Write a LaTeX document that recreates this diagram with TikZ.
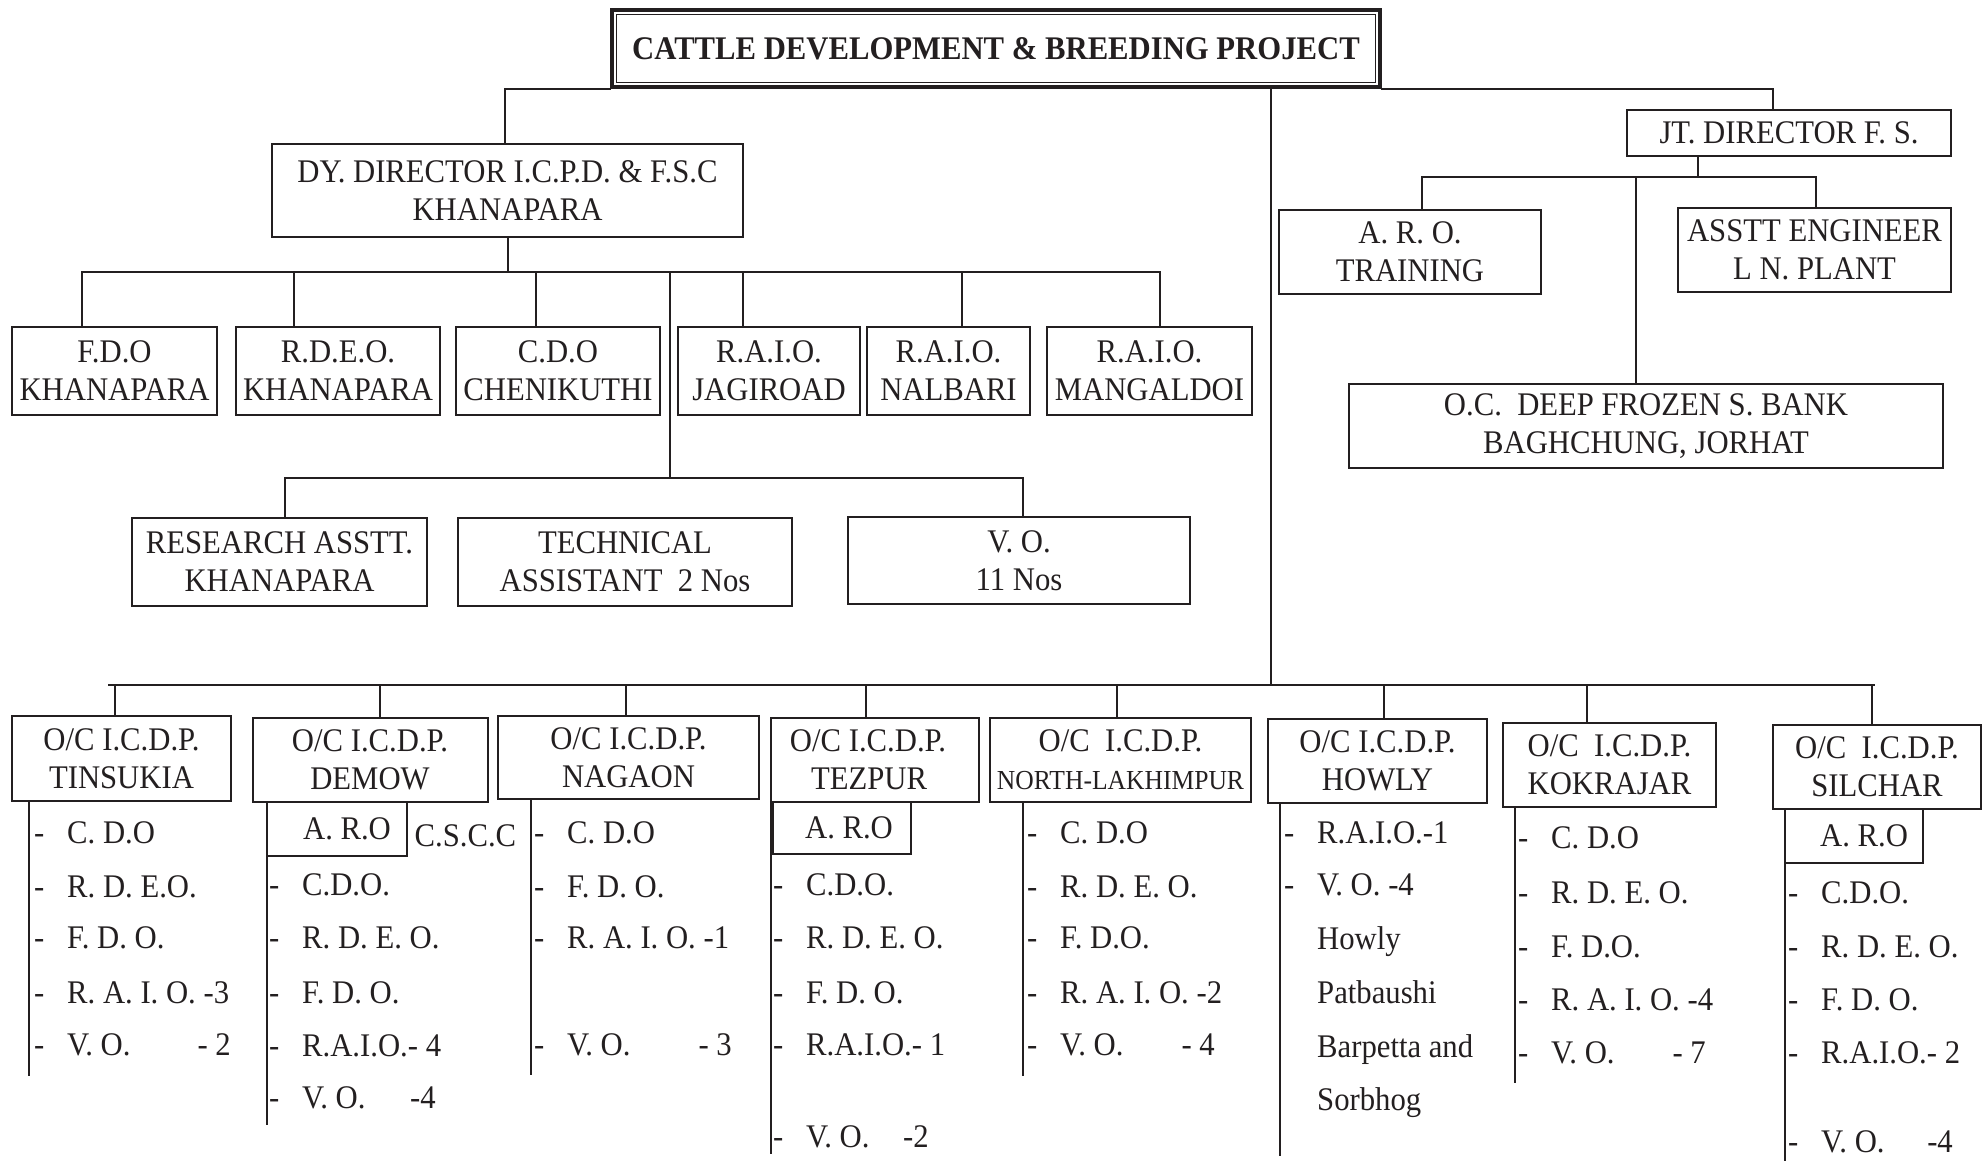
\documentclass[tikz,border=0pt]{standalone}
\usepackage{fontspec}
\setmainfont{Liberation Serif}[FakeStretch=0.93]
\definecolor{ink}{RGB}{35,31,32}
\newcommand{\lidash}{\makebox[33pt][l]{-}}

\begin{document}
\begin{tikzpicture}[x=1pt, y=-1pt,
  box/.style={shape=rectangle, draw=ink, line width=2pt, inner sep=0pt, align=center, text=ink, font=\fontsize{33}{38}\selectfont},
  entry/.style={anchor=base west, inner sep=0pt, text=ink, font=\fontsize{33}{38}\selectfont},
  link/.style={draw=ink, line width=2pt, line cap=rect}]
\useasboundingbox (0,0) rectangle (1982,1160);
\node[box, line width=3.5pt, minimum width=768pt, minimum height=77pt, font=\fontsize{33}{38}\selectfont\bfseries] (title) at (996,48.5) {CATTLE DEVELOPMENT \& BREEDING PROJECT};
\draw[ink, line width=1pt] ([shift={(6,6)}]title.north west) rectangle ([shift={(-6,-6)}]title.south east);
\node[box, minimum width=471pt, minimum height=93pt] (dy) at (507.5,190.5) {DY. DIRECTOR I.C.P.D. \& F.S.C\\KHANAPARA};
\node[box, minimum width=205pt, minimum height=88pt] (fdo) at (114.5,371) {F.D.O\\KHANAPARA};
\node[box, minimum width=204pt, minimum height=88pt] (rdeo) at (338,371) {R.D.E.O.\\KHANAPARA};
\node[box, minimum width=204pt, minimum height=88pt] (cdo) at (558,371) {C.D.O\\CHENIKUTHI};
\node[box, minimum width=182pt, minimum height=88pt] (jagi) at (769,371) {R.A.I.O.\\JAGIROAD};
\node[box, minimum width=163pt, minimum height=88pt] (nalb) at (948.5,371) {R.A.I.O.\\NALBARI};
\node[box, minimum width=205pt, minimum height=88pt] (mang) at (1149.5,371) {R.A.I.O.\\MANGALDOI};
\node[box, minimum width=295pt, minimum height=88pt] (res) at (279.5,562) {RESEARCH ASSTT.\\KHANAPARA};
\node[box, minimum width=334pt, minimum height=88pt] (tech) at (625,562) {TECHNICAL\\ASSISTANT~~2 Nos};
\node[box, minimum width=342pt, minimum height=87pt] (vo) at (1019,560.5) {V. O.\\11 Nos};
\node[box, minimum width=324pt, minimum height=46pt] (jt) at (1789,133) {JT. DIRECTOR F. S.};
\node[box, minimum width=262pt, minimum height=84pt] (aro) at (1410,252) {A. R. O.\\TRAINING};
\node[box, minimum width=273pt, minimum height=84pt] (ae) at (1814.5,250) {ASSTT ENGINEER\\L N. PLANT};
\node[box, minimum width=594pt, minimum height=84pt] (ocd) at (1646,426) {O.C.~~DEEP FROZEN S. BANK\\BAGHCHUNG, JORHAT};
\node[box, minimum width=219pt, minimum height=85pt] (tin) at (121.5,758.5) {O/C I.C.D.P.\\TINSUKIA};
\node[box, minimum width=235pt, minimum height=84pt] (dem) at (370,760) {O/C I.C.D.P.\\DEMOW};
\node[box, minimum width=261pt, minimum height=83pt] (nag) at (628.5,757.5) {O/C I.C.D.P.\\NAGAON};
\node[box, minimum width=208pt, minimum height=84pt] (tez) at (875,760) {O/C I.C.D.P.\hspace*{14pt}\\TEZPUR\hspace*{12pt}};
\node[box, minimum width=261pt, minimum height=84pt] (nl) at (1120.5,760) {O/C~~I.C.D.P.\\{\fontsize{27.5}{31}\selectfont NORTH-LAKHIMPUR}};
\node[box, minimum width=219pt, minimum height=84pt] (how) at (1377.5,761) {O/C I.C.D.P.\\HOWLY};
\node[box, minimum width=213pt, minimum height=84pt] (kok) at (1609.5,765) {O/C~~I.C.D.P.\\KOKRAJAR};
\node[box, minimum width=208pt, minimum height=84pt] (sil) at (1877,767) {O/C~~I.C.D.P.\\SILCHAR};
\node[box, minimum width=140pt, minimum height=54pt] (demaro) at (337,829) {\hspace*{20pt}A. R.O};
\node[box, minimum width=138pt, minimum height=52pt] (tezaro) at (842,828) {\hspace*{14pt}A. R.O};
\node[box, minimum width=138pt, minimum height=54pt] (silaro) at (1854,836) {\hspace*{20pt}A. R.O};
\node[entry] (cscc) at (414.5,846) {C.S.C.C};
\node[entry] (tin1) at (34,843) {\lidash C. D.O};
\node[entry] (tin2) at (34,897) {\lidash R. D. E.O.};
\node[entry] (tin3) at (34,948) {\lidash F. D. O.};
\node[entry] (tin4) at (34,1003) {\lidash R. A. I. O. -3};
\node[entry] (tin5) at (34,1055) {\lidash V. O.};
\node[entry, anchor=base east] (tin5n) at (231,1055) {- 2};
\node[entry] (dem1) at (269,895) {\lidash C.D.O.};
\node[entry] (dem2) at (269,948) {\lidash R. D. E. O.};
\node[entry] (dem3) at (269,1003) {\lidash F. D. O.};
\node[entry] (dem4) at (269,1056) {\lidash R.A.I.O.- 4};
\node[entry] (dem5) at (269,1108) {\lidash V. O.};
\node[entry, anchor=base east] (dem5n) at (436,1108) {-4};
\node[entry] (nag1) at (534,843) {\lidash C. D.O};
\node[entry] (nag2) at (534,897) {\lidash F. D. O.};
\node[entry] (nag3) at (534,948) {\lidash R. A. I. O. -1};
\node[entry] (nag4) at (534,1055) {\lidash V. O.};
\node[entry, anchor=base east] (nag4n) at (732,1055) {- 3};
\node[entry] (tez1) at (773,895) {\lidash C.D.O.};
\node[entry] (tez2) at (773,948) {\lidash R. D. E. O.};
\node[entry] (tez3) at (773,1003) {\lidash F. D. O.};
\node[entry] (tez4) at (773,1055) {\lidash R.A.I.O.- 1};
\node[entry] (tez5) at (773,1147) {\lidash V. O.};
\node[entry, anchor=base east] (tez5n) at (929,1147) {-2};
\node[entry] (nl1) at (1027,843) {\lidash C. D.O};
\node[entry] (nl2) at (1027,897) {\lidash R. D. E. O.};
\node[entry] (nl3) at (1027,948) {\lidash F. D.O.};
\node[entry] (nl4) at (1027,1003) {\lidash R. A. I. O. -2};
\node[entry] (nl5) at (1027,1055) {\lidash V. O.};
\node[entry, anchor=base east] (nl5n) at (1215,1055) {- 4};
\node[entry] (how1) at (1284,843) {\lidash R.A.I.O.-1};
\node[entry] (how2) at (1284,895) {\lidash V. O. -4};
\node[entry] (how3) at (1317,949) {Howly};
\node[entry] (how4) at (1317,1003) {Patbaushi};
\node[entry] (how5) at (1317,1057) {Barpetta and};
\node[entry] (how6) at (1317,1110) {Sorbhog};
\node[entry] (kok1) at (1518,848) {\lidash C. D.O};
\node[entry] (kok2) at (1518,903) {\lidash R. D. E. O.};
\node[entry] (kok3) at (1518,957) {\lidash F. D.O.};
\node[entry] (kok4) at (1518,1010) {\lidash R. A. I. O. -4};
\node[entry] (kok5) at (1518,1063) {\lidash V. O.};
\node[entry, anchor=base east] (kok5n) at (1706,1063) {- 7};
\node[entry] (sil1) at (1788,903) {\lidash C.D.O.};
\node[entry] (sil2) at (1788,957) {\lidash R. D. E. O.};
\node[entry] (sil3) at (1788,1010) {\lidash F. D. O.};
\node[entry] (sil4) at (1788,1063) {\lidash R.A.I.O.- 2};
\node[entry] (sil5) at (1788,1152) {\lidash V. O.};
\node[entry, anchor=base east] (sil5n) at (1953,1152) {-4};
\coordinate (tlft) at (505,0);
\coordinate (trgt) at (1773,0);
\coordinate (trunk) at (1271,685);
\coordinate (busl) at (109,685);
\coordinate (busr) at (1874,685);
\coordinate (b1) at (114.5,685);
\coordinate (b2) at (380,685);
\coordinate (b3) at (626,685);
\coordinate (b4) at (866,685);
\coordinate (b5) at (1117,685);
\coordinate (b6) at (1384,685);
\coordinate (b7) at (1587,685);
\coordinate (b8) at (1872,685);
\coordinate (ra) at (82,272);
\coordinate (rb) at (294,272);
\coordinate (rc) at (536,272);
\coordinate (rd) at (670,272);
\coordinate (re) at (743,272);
\coordinate (rf) at (962,272);
\coordinate (rg) at (1160,272);
\coordinate (sm) at (670,478);
\coordinate (sa) at (285,478);
\coordinate (sb) at (1023,478);
\coordinate (ja) at (1422,177);
\coordinate (jb) at (1636,177);
\coordinate (jm) at (1698,177);
\coordinate (jc) at (1816,177);
\coordinate (tinv) at (29,1075);
\coordinate (demv) at (267,1124);
\coordinate (nagv) at (531,1074);
\coordinate (tezv) at (771,1153);
\coordinate (nlv) at (1023,1075);
\coordinate (howv) at (1280,1155);
\coordinate (kokv) at (1515,1082);
\coordinate (silv) at (1785,1160);
\draw[link] (title.south west) -| (tlft |- dy.north);
\draw[link] (title.south east) -| (trgt |- jt.north);
\path[link] (trunk |- title.south) edge (trunk);
\path[link] (busl) edge (busr);
\path[link] (b1) edge (b1 |- tin.north);
\path[link] (b2) edge (b2 |- dem.north);
\path[link] (b3) edge (b3 |- nag.north);
\path[link] (b4) edge (b4 |- tez.north);
\path[link] (b5) edge (b5 |- nl.north);
\path[link] (b6) edge (b6 |- how.north);
\path[link] (b7) edge (b7 |- kok.north);
\path[link] (b8) edge (b8 |- sil.north);
\path[link] (dy.south) edge (dy.south |- ra);
\path[link] (ra) edge (rg);
\path[link] (ra) edge (ra |- fdo.north);
\path[link] (rb) edge (rb |- rdeo.north);
\path[link] (rc) edge (rc |- cdo.north);
\path[link] (re) edge (re |- jagi.north);
\path[link] (rf) edge (rf |- nalb.north);
\path[link] (rg) edge (rg |- mang.north);
\path[link] (rd) edge (sm);
\path[link] (sa) edge (sb);
\path[link] (sa) edge (sa |- res.north);
\path[link] (sb) edge (sb |- vo.north);
\path[link] (jm |- jt.south) edge (jm);
\path[link] (ja) edge (jc);
\path[link] (ja) edge (ja |- aro.north);
\path[link] (jb) edge (jb |- ocd.north);
\path[link] (jc) edge (jc |- ae.north);
\path[link] (tinv |- tin.south) edge (tinv);
\path[link] (demv |- dem.south) edge (demv);
\path[link] (nagv |- nag.south) edge (nagv);
\path[link] (tezv |- tez.south) edge (tezv);
\path[link] (nlv |- nl.south) edge (nlv);
\path[link] (howv |- how.south) edge (howv);
\path[link] (kokv |- kok.south) edge (kokv);
\path[link] (silv |- sil.south) edge (silv);
\end{tikzpicture}
\end{document}
